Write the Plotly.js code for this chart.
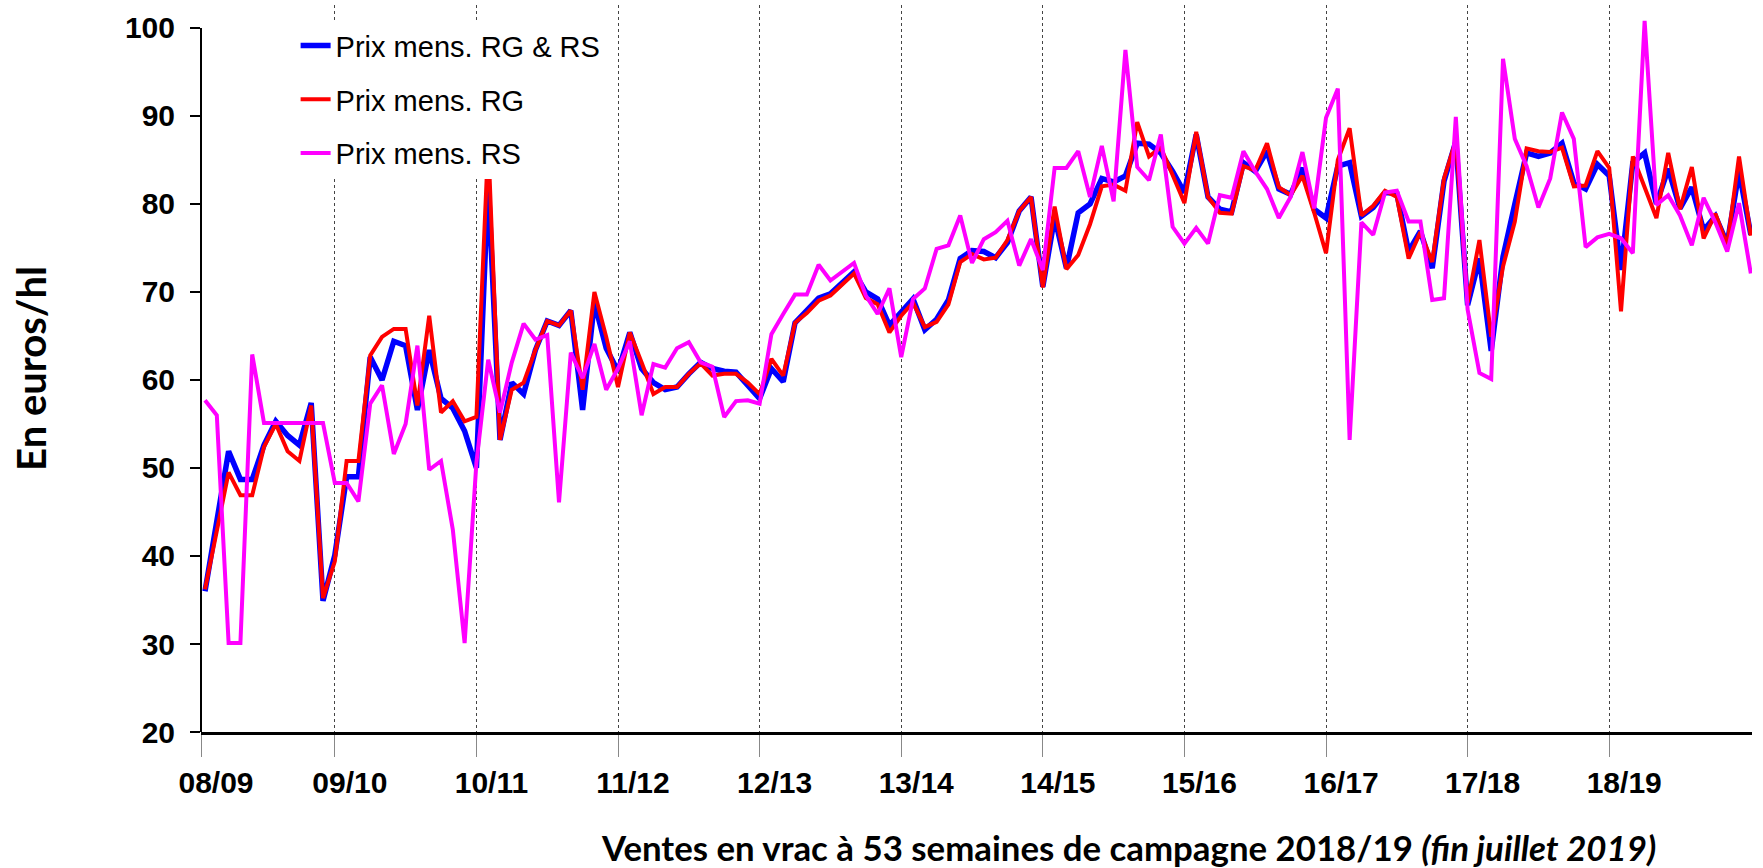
<!DOCTYPE html>
<html>
<head>
<meta charset="utf-8">
<script src="https://cdn.plot.ly/plotly-3.0.1.min.js"></script>
<style>body{margin:0;background:#fff}</style>
</head>
<body>
<div id="chart" style="width:1763px;height:868px"></div>
<script>
// campaign labels (one per 12 months)
var campaigns = ["08/09", "09/10", "10/11", "11/12", "12/13", "13/14",
                 "14/15", "15/16", "16/17", "17/18", "18/19"];

// monthly prices, euros/hl
var prixRgRs = [36.0, 44.0, 51.9, 48.7, 48.7, 52.6, 55.3, 53.7, 52.6, 57.4, 34.9,
  40.1, 49.0, 49.0, 62.6, 60.0, 64.4, 63.9, 56.6, 63.4, 57.9, 56.8, 54.2,
  50.0, 82.5, 53.2, 59.7, 58.4, 63.4, 66.7, 66.2, 67.9, 56.6, 68.8, 63.6,
  61.0, 65.4, 61.3, 59.7, 58.9, 59.2, 60.7, 62.0, 61.3, 61.0, 60.9, 59.5,
  57.9, 61.3, 59.8, 66.5, 68.0, 69.3, 69.8, 71.1, 72.3, 70.0, 69.2, 66.2,
  67.6, 69.2, 65.7, 66.9, 69.1, 73.8, 74.7, 74.6, 73.9, 75.6, 79.2, 80.8,
  70.6, 78.5, 72.7, 79.0, 80.0, 82.9, 82.5, 83.2, 86.9, 86.8, 85.8, 83.7,
  81.3, 87.9, 80.8, 79.4, 79.1, 84.7, 83.7, 86.0, 81.7, 81.1, 84.1, 79.4,
  78.4, 84.3, 84.7, 78.6, 79.6, 81.3, 81.2, 74.6, 76.9, 72.7, 82.6, 87.1,
  68.5, 73.8, 63.3, 74.0, 80.0, 85.8, 85.4, 85.8, 86.9, 82.4, 81.7, 84.5,
  83.2, 72.5, 84.7, 85.8, 80.0, 84.0, 79.5, 81.9, 77.0, 78.6, 75.5, 83.7, 76.5];

var prixRg = [36.2, 43.0, 49.5, 46.9, 46.9, 52.4, 55.0, 51.9, 50.8, 57.1, 35.2,
  39.4, 50.8, 50.8, 62.8, 64.9, 65.8, 65.8, 57.1, 67.3, 56.3, 57.6, 55.3,
  55.8, 87.0, 53.2, 58.9, 59.7, 63.4, 66.7, 66.2, 67.9, 58.9, 70.0, 64.9,
  59.2, 65.4, 62.0, 58.4, 59.2, 59.2, 60.7, 61.9, 60.5, 60.7, 60.7, 59.7,
  58.4, 62.4, 60.5, 66.5, 67.6, 69.0, 69.6, 70.9, 72.1, 69.3, 68.6, 65.4,
  67.3, 68.8, 66.0, 66.6, 68.6, 73.4, 74.3, 73.7, 73.9, 75.9, 79.2, 80.8,
  70.5, 79.7, 72.6, 74.2, 77.7, 82.0, 82.2, 81.5, 89.3, 85.4, 86.4, 83.3,
  80.1, 88.2, 80.8, 79.0, 78.9, 84.3, 83.8, 86.9, 81.9, 81.0, 83.2, 79.0,
  74.4, 85.0, 88.6, 78.7, 79.8, 81.5, 80.8, 73.8, 76.8, 73.4, 82.9, 87.2,
  68.8, 75.9, 64.9, 72.9, 78.0, 86.3, 86.0, 85.9, 86.4, 82.0, 82.1, 86.0,
  84.1, 67.8, 85.4, 81.9, 78.4, 85.8, 79.4, 84.2, 76.1, 78.9, 75.3, 85.4, 76.4];

var prixRs = [57.7, 56.0, 30.1, 30.1, 62.9, 55.1, 55.1, 55.1, 55.1, 55.1, 55.1,
  48.3, 48.3, 46.2, 57.3, 59.4, 51.6, 55.0, 63.9, 49.8, 50.8, 43.0, 30.1,
  50.6, 62.3, 56.3, 62.0, 66.4, 64.6, 65.1, 46.1, 63.1, 60.2, 64.1, 58.9,
  61.3, 64.4, 56.0, 61.8, 61.4, 63.6, 64.3, 62.0, 61.5, 55.8, 57.6, 57.7,
  57.3, 65.2, 67.5, 69.7, 69.7, 73.1, 71.3, 72.3, 73.3, 69.6, 67.5, 70.4,
  62.6, 69.2, 70.4, 74.9, 75.3, 78.7, 73.3, 76.0, 76.8, 78.1, 73.0, 76.0,
  72.5, 84.1, 84.1, 86.0, 80.8, 86.6, 80.3, 97.5, 84.2, 82.7, 87.9, 77.4,
  75.5, 77.3, 75.5, 81.0, 80.7, 86.0, 83.7, 81.7, 78.4, 80.8, 85.9, 79.5,
  89.8, 93.1, 53.2, 77.9, 76.5, 81.3, 81.5, 78.0, 78.0, 69.1, 69.3, 89.9,
  68.0, 60.8, 60.1, 96.5, 87.4, 84.3, 79.6, 82.9, 90.4, 87.4, 75.1, 76.2,
  76.6, 76.1, 74.4, 100.8, 79.9, 81.0, 78.7, 75.3, 80.7, 77.9, 74.6, 80.1, 72.1];

var yTicks = [20, 30, 40, 50, 60, 70, 80, 90, 100];

// month index along the x axis
var months = prixRgRs.map((v, i) => i);

// each campaign boundary sits 12 months apart, first one pinned to the axis
var xStart = -0.34;
var tickPos = campaigns.map((c, k) => k === 0 ? xStart : 12 * k - 1);

var trace1 = {
  x: months, y: prixRgRs, type: "scatter", mode: "lines",
  name: "Prix mens. RG & RS", legendgroup: "a",
  line: {color: "#0000FF", width: 5.5}
};
var trace2 = {
  x: months, y: prixRg, type: "scatter", mode: "lines",
  name: "Prix mens. RG", legendgroup: "b",
  line: {color: "#FF0000", width: 4}
};
var trace3 = {
  x: months, y: prixRs, type: "scatter", mode: "lines",
  name: "Prix mens. RS", legendgroup: "c",
  line: {color: "#FF00FF", width: 4}
};

var tickFont = {family: "Liberation Sans, Arial, sans-serif", size: 30, color: "black", weight: "bold"};

var layout = {
  width: 1763,
  height: 868,
  margin: {l: 201, r: 11, t: 5, b: 136},
  paper_bgcolor: "white",
  plot_bgcolor: "white",
  showlegend: true,
  legend: {
    x: 0.061, y: 0.979, xanchor: "left", yanchor: "top",
    bgcolor: "white", borderwidth: 0,
    traceorder: "grouped", tracegroupgap: 13,
    font: {family: "Liberation Sans, Arial, sans-serif", size: 29, color: "black"}
  },
  xaxis: {
    range: [xStart, 131.1],
    tickmode: "array",
    tickvals: tickPos,
    ticktext: campaigns,
    showgrid: true, gridcolor: "#444", gridwidth: 1, griddash: "dot",
    ticks: "outside", ticklen: 22, tickcolor: "#888", tickwidth: 1,
    showline: true, linecolor: "black", linewidth: 2.5,
    zeroline: false,
    ticklabelshift: 15,
    tickfont: tickFont
  },
  yaxis: {
    range: [20, 102.61],
    tickmode: "array",
    tickvals: yTicks,
    showgrid: false, zeroline: false, showline: false,
    ticks: "outside", ticklen: 10, tickcolor: "black", tickwidth: 1.5,
    ticklabelstandoff: 9,
    tickfont: tickFont,
    title: {
      text: "En euros/hl",
      standoff: 65,
      font: {family: "Lato, sans-serif", size: 40, color: "black", weight: "bold"}
    }
  },
  // y axis line stops at 100 like the original
  shapes: [{
    type: "line", xref: "paper", x0: 0, x1: 0, yref: "y", y0: 20, y1: 100,
    line: {color: "black", width: 2}
  }],
  annotations: [{
    text: "<b>Ventes en vrac à 53 semaines de campagne 2018/19 <i>(fin juillet 2019)</i></b>",
    xref: "paper", yref: "paper", x: 0.5977, y: -0.159,
    xanchor: "center", yanchor: "middle", showarrow: false,
    font: {family: "Lato, sans-serif", size: 34.8, color: "black"}
  }]
};

Plotly.newPlot("chart", [trace1, trace2, trace3], layout, {displayModeBar: false});
</script>
</body>
</html>
